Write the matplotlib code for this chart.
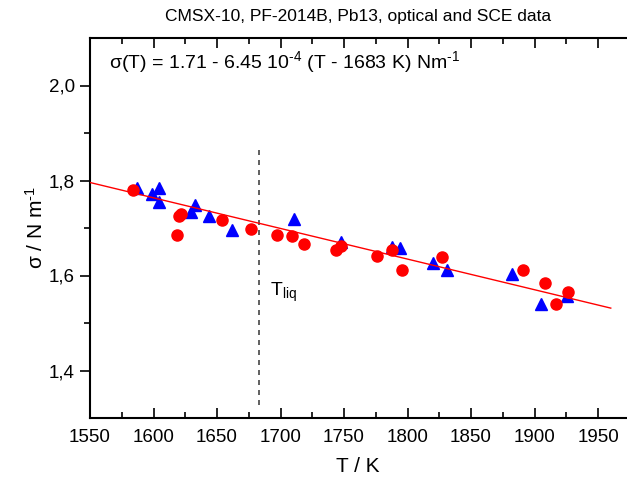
import matplotlib
matplotlib.use("Agg")
import matplotlib.pyplot as plt
import numpy as np

plt.rcParams['font.family'] = ['Liberation Sans', 'DejaVu Sans']
plt.rcParams['mathtext.fontset'] = 'custom'
plt.rcParams['mathtext.rm'] = 'Liberation Sans'
plt.rcParams['mathtext.it'] = 'Liberation Sans'

# optical data (blue triangles)
T_opt = [1587, 1598.7, 1604, 1604, 1629.4, 1633, 1643.6, 1661.6, 1711, 1748,
         1788, 1793.7, 1820.4, 1830.7, 1882.5, 1905.3, 1925.8]
s_opt = [1.784, 1.772, 1.784, 1.755, 1.734, 1.748, 1.725, 1.696, 1.719, 1.670,
         1.660, 1.658, 1.626, 1.611, 1.603, 1.541, 1.556]

# SCE data (red circles)
T_sce = [1583.8, 1618.4, 1620, 1622, 1653.8, 1676.6, 1697, 1708.8, 1718.2, 1743.4,
         1748, 1775.6, 1787.4, 1796, 1827.5, 1891.2, 1908.5, 1917, 1926.6]
s_sce = [1.780, 1.685, 1.725, 1.729, 1.717, 1.698, 1.685, 1.683, 1.666, 1.653,
         1.662, 1.641, 1.653, 1.611, 1.639, 1.611, 1.584, 1.539, 1.565]

# fit
s_L = 1.71
dsdT = -6.45e-4
T_L = 1683
T_fit = np.array([1550, 1960])
s_fit = s_L + dsdT * (T_fit - T_L)

x_ticks = [1550, 1600, 1650, 1700, 1750, 1800, 1850, 1900, 1950]
y_ticks = [1.4, 1.6, 1.8, 2.0]
y_ticklabels = ['1,4', '1,6', '1,8', '2,0']

fig = plt.figure(figsize=(6.27, 4.8), dpi=100)
ax = fig.add_axes([90/627, 1-418/480, 536/627, 380/480])

ax.plot(T_opt, s_opt, linestyle='none', marker='^', markersize=8.5,
        color='#0000ff', zorder=3)
ax.plot(T_sce, s_sce, linestyle='none', marker='o', markersize=8,
        color='#ff0000', zorder=4)
ax.plot(T_fit, s_fit, color='#ff0000', linewidth=1, zorder=5)
ax.plot([T_L, T_L], [1.328, 1.867], color='#444444', linewidth=1.2,
        linestyle=(0, (3, 3)), zorder=2)

ax.set_xlim(1550, 1972)
ax.set_ylim(1.3, 2.1)
ax.set_xticks(x_ticks)
ax.set_xticks(np.arange(1575, 1972, 50), minor=True)
ax.set_yticks(y_ticks)
ax.set_yticklabels(y_ticklabels)
ax.set_yticks([1.5, 1.7, 1.9], minor=True)

ax.spines['right'].set_visible(False)
for sp in ['left', 'bottom', 'top']:
    ax.spines[sp].set_linewidth(1.5)

ax.tick_params(axis='x', which='both', direction='in', top=True, bottom=True,
               labelsize=13.5, width=1.2, pad=8)
ax.tick_params(axis='x', which='major', length=7)
ax.tick_params(axis='x', which='minor', length=4)
ax.tick_params(axis='y', which='both', direction='out', left=True, right=False,
               labelsize=13.5, width=1.2, pad=4)
ax.tick_params(axis='y', which='major', length=7)
ax.tick_params(axis='y', which='minor', length=4)

ax.set_xlabel('T / K', fontsize=15, labelpad=8)
ax.set_ylabel(r'σ / N m$^{\text{-1}}$', fontsize=15, labelpad=1)

fig.text(358/627, 1-17/480, 'CMSX-10, PF-2014B, Pb13, optical and SCE data',
         ha='center', va='center', fontsize=12.5)
ax.text(1565, 2.05,
        r'σ(T) = 1.71 - 6.45 10$^{\text{-4}}$ (T - 1683 K) Nm$^{\text{-1}}$',
        fontsize=14, ha='left', va='center')
ax.text(1692, 1.565, r'T$_{\rm liq}$', fontsize=14, ha='left', va='center')

fig.savefig('out.png', dpi=100)
